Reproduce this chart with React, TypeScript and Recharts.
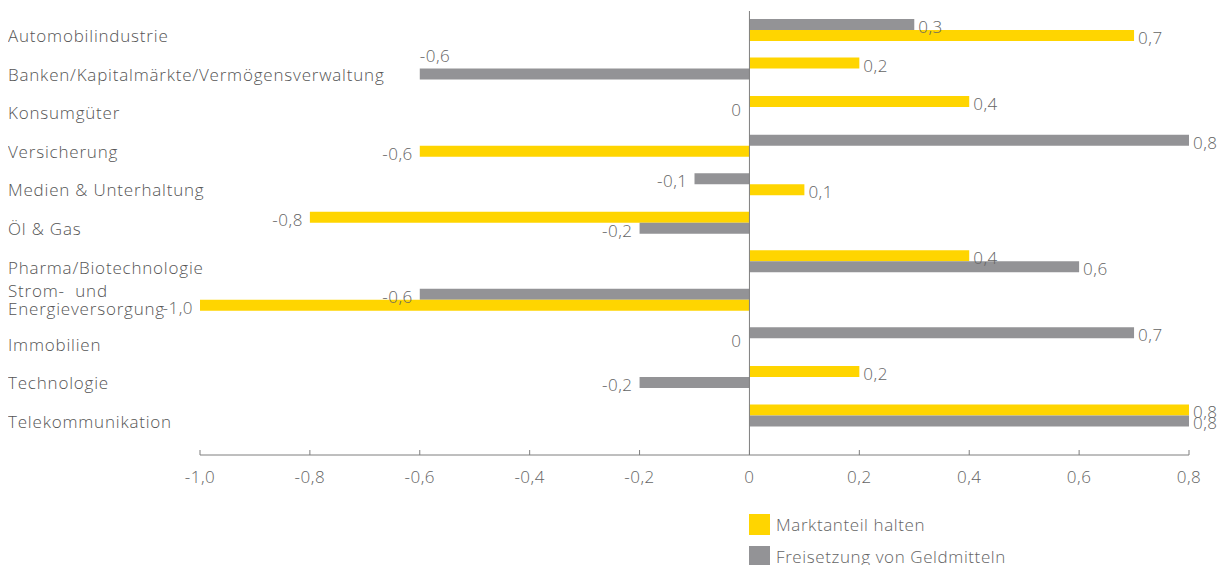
import { useLayoutEffect } from "react";
import {
  BarChart,
  Bar,
  XAxis,
  YAxis,
  Cell,
  LabelList,
  ReferenceLine,
} from "recharts";

const CATEGORIES = [
  "Automobilindustrie",
  "Banken/Kapitalmärkte/Vermögensverwaltung",
  "Konsumgüter",
  "Versicherung",
  "Medien & Unterhaltung",
  "Öl & Gas",
  "Pharma/Biotechnologie",
  "Strom-  und\nEnergieversorgung",
  "Immobilien",
  "Technologie",
  "Telekommunikation",
];

// Marktanteil halten
const MARKTANTEIL = [0.7, 0.2, 0.4, -0.6, 0.1, -0.8, 0.4, -1.0, 0, 0.2, 0.8];
// Freisetzung von Geldmitteln
const FREISETZUNG = [0.3, -0.6, 0, 0.8, -0.1, -0.2, 0.6, -0.6, 0.7, -0.2, 0.8];
// which series sits in the upper slot of each category in the original
const YELLOW_ON_TOP = [false, true, true, false, false, true, true, false, false, true, true];

const X_TICKS = [-1, -0.8, -0.6, -0.4, -0.2, 0, 0.2, 0.4, 0.6, 0.8];

const YELLOW = "#ffd500";
const GREY = "#939396";
const AXIS = "#7f7f7f";
const TEXT = "#646464";
const FONT = "'Open Sans', sans-serif";
const WEIGHT = 300;

const rows = CATEGORIES.map((name, i) => ({
  name,
  yellowTop: YELLOW_ON_TOP[i],
  top: YELLOW_ON_TOP[i] ? MARKTANTEIL[i] : FREISETZUNG[i],
  bottom: YELLOW_ON_TOP[i] ? FREISETZUNG[i] : MARKTANTEIL[i],
}));

const fmt = (v: number) => (v === 0 ? "0" : v.toFixed(1).replace(".", ","));

// rough width of a category label, to keep value labels off it
const textEnd = (name: string) =>
  Math.max(...name.split("\n").map((l) => l.length)) * 9.4;

function CategoryTick(props: any) {
  const { y, payload } = props;
  const lines = String(payload.value).split("\n");
  const common = {
    fill: "#555555",
    fontSize: 17,
    fontFamily: FONT,
    fontWeight: WEIGHT,
    letterSpacing: 0.8,
    style: { whiteSpace: "pre" as const },
  };
  if (lines.length > 1) {
    return (
      <text x={0} y={y - 3} {...common}>
        {lines.map((l, i) => (
          <tspan key={i} x={0} dy={i === 0 ? 0 : 18}>
            {l}
          </tspan>
        ))}
      </text>
    );
  }
  return (
    <text x={0} y={y + 12} {...common}>
      {lines[0]}
    </text>
  );
}

function ValueTick(props: any) {
  const { x, y, payload } = props;
  return (
    <g>
      <line x1={x} x2={x} y1={y - 5} y2={y} stroke={AXIS} strokeWidth={1} />
      <text
        x={x}
        y={y + 28}
        textAnchor="middle"
        fill={TEXT}
        fontSize={17}
        fontFamily={FONT}
        fontWeight={WEIGHT}
        letterSpacing={0.5}
      >
        {fmt(payload.value)}
      </text>
    </g>
  );
}

const labelText = (x: number, y: number, v: number, anchor: "start" | "end", key?: string) => (
  <text
    key={key}
    x={x}
    y={y}
    textAnchor={anchor}
    dominantBaseline="central"
    fill={TEXT}
    fontSize={17}
    fontFamily={FONT}
    fontWeight={WEIGHT}
    letterSpacing={0.5}
  >
    {fmt(v)}
  </text>
);

// zero-length bars get no label from recharts, so the sibling bar draws the "0"
const valueLabel = (slot: "top" | "bottom") => (p: any) => {
  const { x, y, width, height, value, index } = p;
  const v = Number(value);
  const left = Math.min(x, x + width);
  const right = Math.max(x, x + width);
  const row = rows[index];
  const other = row ? (slot === "top" ? row.bottom : row.top) : null;
  const out = [];
  if (v > 0) {
    out.push(labelText(right + 4, y + height / 2 + 2, v, "start", "v"));
  } else if (v < 0) {
    const lx = left - 7;
    if (row && lx - 36 < textEnd(row.name) && slot === "bottom" && left > 300) {
      // no room beside the bar: sit above its end, as in the original
      out.push(labelText(left, y - 13, v, "start", "v"));
    } else {
      out.push(labelText(lx, y + height / 2 + 2, v, "end", "v"));
    }
  }
  if (other === 0) {
    const zx = v >= 0 ? left : right;
    const cy = slot === "top" ? y + height + 2 : y - 2;
    out.push(labelText(zx - 8, cy, 0, "end", "z"));
  }
  return <g>{out}</g>;
};

export default function App() {
  useLayoutEffect(() => {
    document.body.style.margin = "0";
    document.documentElement.style.overflow = "hidden";
  }, []);

  return (
    <div style={{ position: "relative", width: 1211, height: 557, padding: "8px 0 0 8px", fontFamily: FONT }}>
      <BarChart
        width={1211}
        height={557}
        data={rows}
        layout="vertical"
        margin={{ top: 3, right: 30, bottom: 70, left: 0 }}
        barSize={11}
        barGap={0}
        style={{ overflow: "visible" }}
      >
        <XAxis
          type="number"
          domain={[-1, 0.8]}
          ticks={X_TICKS}
          interval={0}
          axisLine={{ stroke: AXIS }}
          tickLine={false}
          tickSize={0}
          tickMargin={0}
          tick={<ValueTick />}
          height={40}
        />
        <YAxis
          type="category"
          dataKey="name"
          width={192}
          axisLine={false}
          tickLine={false}
          interval={0}
          padding={{ top: 0, bottom: 20 }}
          tick={<CategoryTick />}
        />
        <ReferenceLine x={0} stroke={AXIS} strokeWidth={1} />
        <Bar dataKey="top" isAnimationActive={false}>
          {rows.map((r) => (
            <Cell key={r.name} fill={r.yellowTop ? YELLOW : GREY} />
          ))}
          <LabelList dataKey="top" content={valueLabel("top")} />
        </Bar>
        <Bar dataKey="bottom" isAnimationActive={false}>
          {rows.map((r) => (
            <Cell key={r.name} fill={r.yellowTop ? GREY : YELLOW} />
          ))}
          <LabelList dataKey="bottom" content={valueLabel("bottom")} />
        </Bar>
      </BarChart>

      {/* legend */}
      <div style={{ position: "absolute", left: 749, top: 513, display: "flex", alignItems: "center", gap: 6 }}>
        <span style={{ width: 21, height: 21, background: YELLOW, display: "inline-block" }} />
        <span style={{ fontSize: 17, color: TEXT, fontWeight: WEIGHT, letterSpacing: 0.6 }}>Marktanteil halten</span>
      </div>
      <div style={{ position: "absolute", left: 749, top: 545, display: "flex", alignItems: "center", gap: 6 }}>
        <span style={{ width: 21, height: 21, background: GREY, display: "inline-block" }} />
        <span style={{ fontSize: 17, color: TEXT, fontWeight: WEIGHT, letterSpacing: 0.6 }}>Freisetzung von Geldmitteln</span>
      </div>
    </div>
  );
}
